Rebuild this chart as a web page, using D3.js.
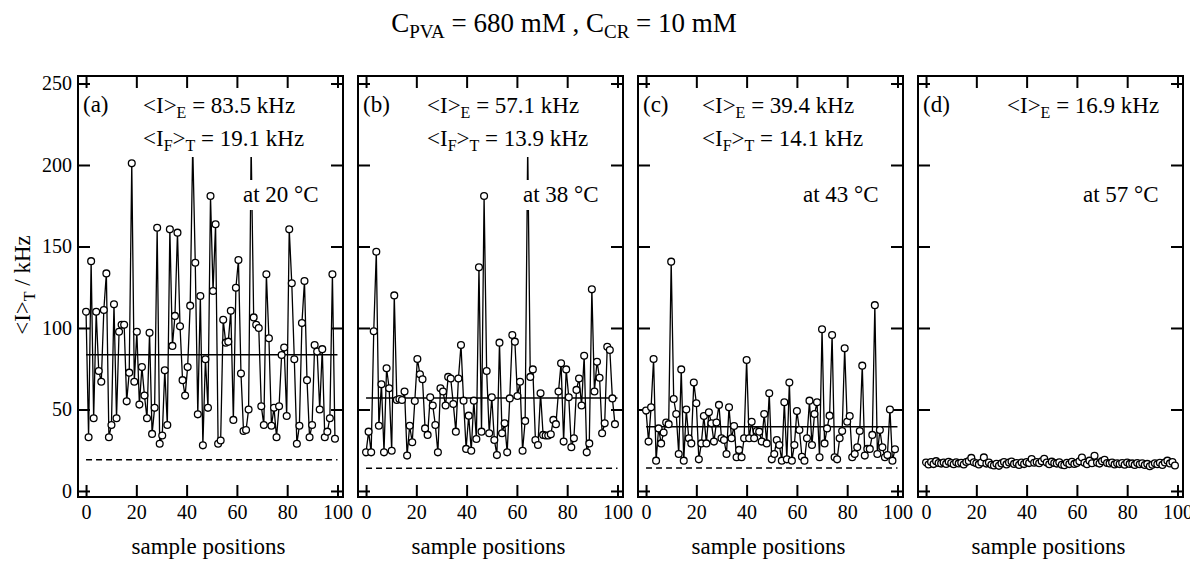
<!doctype html>
<html>
<head>
<meta charset="utf-8">
<style>
  body { margin: 0; background: #fff; }
  svg { display: block; }
  svg text { font-family: "Liberation Serif", Tinos, "DejaVu Serif", "Noto Serif", serif !important; fill: #000; }
</style>
</head>
<body>
<script src="https://d3js.org/d3.v7.min.js"></script>
<script>

  // data, sample intensities in kHz
  var seriesA = [110,33,141,44.6,110,73.6,67,111,133.5,33,40.5,114.5,44.6,97.7,102,102,55,72.6,201,67,
                 97.7,53,76,58.5,44.6,97,35,51,161.5,29,34,74,40.5,160.5,89,107.4,158.5,101,68,58.5,
                 76,113.7,212,140,47,119.6,28,80.8,51,181,122.7,163.6,29,31,105,91,91.6,110.6,43.6,124.7,
                 141.7,72,36.8,37.4,50,212,106.5,102,100,52,40.5,133,93.7,40,51,33,52,83.4,88,46,
                 160.5,127.4,80.8,29,40,103,128.8,68,33,40.5,89.6,85.5,50,87,33,36.4,44.6,133,32];
  var seriesB = [23.7,36.4,23.7,98,146.8,40,65.4,23.7,75.3,63,24.7,120,55.8,56.4,55.8,61,21.7,40,29.9,55.2,
                 81,71.6,68.5,38.4,34.4,57.5,52.4,40.5,23.7,63,61,52.4,70,69,53.4,36.4,69,89.6,55.4,25.8,
                 46.2,24.7,55.4,31.9,137.2,36.4,181,73.6,35.4,57.5,31.3,22,91,35.4,41.5,23.7,56.8,95.7,91.6,58.3,
                 67,24.7,43,212,70,74.6,31.3,28.2,60,34.4,34,34,34.8,43.6,41,61,78.3,30.3,74.6,57.5,
                 26.8,32.3,62,69,52.4,83,23.7,29.2,123.7,61,79.3,69.5,35.4,41.5,88.5,86.5,56.8,41];
  var seriesC = [49.3,30.3,51.3,81,18.6,38.4,29.2,35.8,42,41,140.7,56.4,47.2,22.7,74.6,18.6,50,32.3,29.2,66.5,
                 53.8,19.4,29.2,46,29.2,48.3,41.5,30.3,42,52.8,32.3,31.3,22.7,51.3,32.3,39.9,20.7,25.2,20.7,32.3,
                 80.4,32.3,42.5,32.3,36.8,36.4,30.3,47.2,29.2,60,19.4,22.7,31.3,28.2,18.6,54.4,19.4,66.5,18.6,28.2,
                 49,37.4,21,18.6,32.3,55.4,28.2,47.2,54.4,20.7,99.2,29.2,38.4,46.2,95.7,20.7,19.4,32.3,36.8,87.5,
                 42.5,46,20.7,22.7,26.8,36.8,76.9,21.7,25.8,25.8,34.4,114,22.7,37.4,26.8,20.7,22,50,18.6,25.6];
  var seriesD = [17.5,16.2,17.8,16.5,18.3,17.2,16.8,17.5,16.6,17.9,17.1,16.4,17.6,16.9,17.3,16.2,17.8,18.4,20.3,17.6,
                 17.0,16.3,17.4,20.6,16.8,17.5,16.1,15.6,16.7,15.4,16.9,17.8,16.3,17.5,18.1,16.6,17.2,16.0,17.4,16.5,
                 17.7,17.1,19.6,17.3,17.8,17.0,18.2,19.8,17.4,16.4,18.0,17.2,16.8,17.6,16.1,15.8,17.3,16.5,17.9,16.6,
                 17.1,18.2,20.5,17.3,16.4,18.6,17.0,21.6,17.4,16.8,18.3,19.1,17.2,16.9,17.5,16.3,17.0,16.5,17.2,16.1,
                 17.4,16.6,16.9,16.0,17.1,16.4,17.0,15.9,16.6,15.2,16.1,17.0,16.4,17.3,16.0,17.5,18.6,16.9,17.8,15.6];
  var panelLetters = ["a","b","c","d"];
  var meanE = [83.5, 57.1, 39.4, 16.9];     // <I>E, solid line
  var meanFT = [19.1, 13.9, 14.1, null];    // <IF>T, dashed line
  var temps = [20, 38, 43, 57];
  var xTicks = [0,20,40,60,80,100];
  var yTicks = [0,50,100,150,200,250];

  var allSeries = [seriesA, seriesB, seriesC, seriesD];

  // layout
  var W = 1190, H = 561;
  var panelLeft = [78, 358, 638, 918];
  var panelTop = 76, pw = 265, ph = 421;
  var labelX = [65, 69, 64, 89];
  var tick = 12;
  var serif = '"Liberation Serif", Tinos, "DejaVu Serif", serif';

  var svg = d3.select("body").append("svg").attr("width", W).attr("height", H)
    .attr("font-family", serif);

  var x = d3.scaleLinear().domain([-3.2, 102.2]).range([0, pw]);
  var y = d3.scaleLinear().domain([-3.7, 254.6]).range([ph, 0]);

  var line = d3.line()
    .x(function(d){ return x(d.pos); })
    .y(function(d){ return y(d.v); });

  // title
  var title = svg.append("text").attr("x", 564).attr("y", 32)
    .attr("text-anchor", "middle").style("font-size", "27px");
  title.append("tspan").text("C");
  title.append("tspan").attr("dy", 6).style("font-size", "19px").text("PVA");
  title.append("tspan").attr("dy", -6).text(" = 680 mM , C");
  title.append("tspan").attr("dy", 6).style("font-size", "19px").text("CR");
  title.append("tspan").attr("dy", -6).text(" = 10 mM");

  // y label
  var yl = svg.append("text").attr("transform", "translate(30,285) rotate(-90)")
    .attr("text-anchor", "middle").style("font-size", "23px");
  yl.append("tspan").text("<I>");
  yl.append("tspan").attr("dy", 5).style("font-size", "16px").text("T");
  yl.append("tspan").attr("dy", -5).text(" / kHz");

  function boxed(g, t){
    var b = t.node().getBBox();
    g.insert("rect", function(){ return t.node(); })
      .attr("x", b.x - 2).attr("y", b.y - 2)
      .attr("width", b.width + 4).attr("height", b.height + 5)
      .attr("fill", "#fff");
  }

  allSeries.forEach(function(s, p){
    var g = svg.append("g").attr("transform", "translate(" + panelLeft[p] + "," + panelTop + ")");
    var n = s.length;
    var pts = s.map(function(v, i){ return { pos: i * 99 / (n - 1), v: v }; });

    // axes, ticks pointing inward
    g.append("g").attr("transform", "translate(0," + ph + ")")
      .call(d3.axisBottom(x).tickValues(xTicks).tickSize(-tick).tickPadding(8));
    g.append("g").call(d3.axisTop(x).tickValues(xTicks).tickSize(-tick).tickFormat(""));
    g.append("g").call(d3.axisLeft(y).tickValues(yTicks).tickSize(-tick).tickPadding(6)
      .tickFormat(p == 0 ? d3.format("d") : ""));
    g.append("g").attr("transform", "translate(" + pw + ",0)")
      .call(d3.axisRight(y).tickValues(yTicks).tickSize(-tick).tickFormat(""));
    g.selectAll(".domain").remove();
    g.selectAll("g").attr("font-family", serif).attr("font-size", 20);
    g.selectAll(".tick line").attr("stroke", "#000").attr("stroke-width", 2);
    g.selectAll(".tick text").attr("fill", "#000");

    // mean lines
    g.append("line").attr("x1", x(0)).attr("x2", x(100))
      .attr("y1", y(meanE[p])).attr("y2", y(meanE[p]))
      .attr("stroke", "#000").attr("stroke-width", 1.5);
    if (meanFT[p] != null) {
      g.append("line").attr("x1", x(0)).attr("x2", x(100))
        .attr("y1", y(meanFT[p])).attr("y2", y(meanFT[p]))
        .attr("stroke", "#000").attr("stroke-width", 1.5).attr("stroke-dasharray", "6,4");
    }

    // data
    g.append("path").attr("d", line(pts)).attr("fill", "none")
      .attr("stroke", "#000").attr("stroke-width", 1.3);
    g.selectAll("circle").data(pts).enter().append("circle")
      .attr("cx", function(d){ return x(d.pos); })
      .attr("cy", function(d){ return y(d.v); })
      .attr("r", 3.4).attr("fill", "#fff").attr("stroke", "#000").attr("stroke-width", 1.3);

    // frame
    g.append("rect").attr("width", pw).attr("height", ph)
      .attr("fill", "none").attr("stroke", "#000").attr("stroke-width", 2);

    // annotations
    g.append("text").attr("x", 5).attr("y", 36).style("font-size", "23px").text("(" + panelLetters[p] + ")");

    var t1 = g.append("text").attr("x", labelX[p]).attr("y", 37).style("font-size", "23px");
    t1.append("tspan").text("<I>");
    t1.append("tspan").attr("dy", 5).style("font-size", "16px").text("E");
    t1.append("tspan").attr("dy", -5).text(" = " + meanE[p].toFixed(1) + " kHz");
    boxed(g, t1);

    if (meanFT[p] != null) {
      var t2 = g.append("text").attr("x", labelX[p]).attr("y", 70).style("font-size", "23px");
      t2.append("tspan").text("<I");
      t2.append("tspan").attr("dy", 5).style("font-size", "16px").text("F");
      t2.append("tspan").attr("dy", -5).text(">");
      t2.append("tspan").attr("dy", 5).style("font-size", "16px").text("T");
      t2.append("tspan").attr("dy", -5).text(" = " + meanFT[p].toFixed(1) + " kHz");
      boxed(g, t2);
    }

    var t3 = g.append("text").attr("x", 165).attr("y", 126).style("font-size", "23px")
      .text("at " + temps[p] + " \u00B0C");
    boxed(g, t3);

    // x label
    svg.append("text").attr("x", panelLeft[p] + pw / 2 - 2).attr("y", 554)
      .attr("text-anchor", "middle").style("font-size", "23px").text("sample positions");
  });

</script>
</body>
</html>
